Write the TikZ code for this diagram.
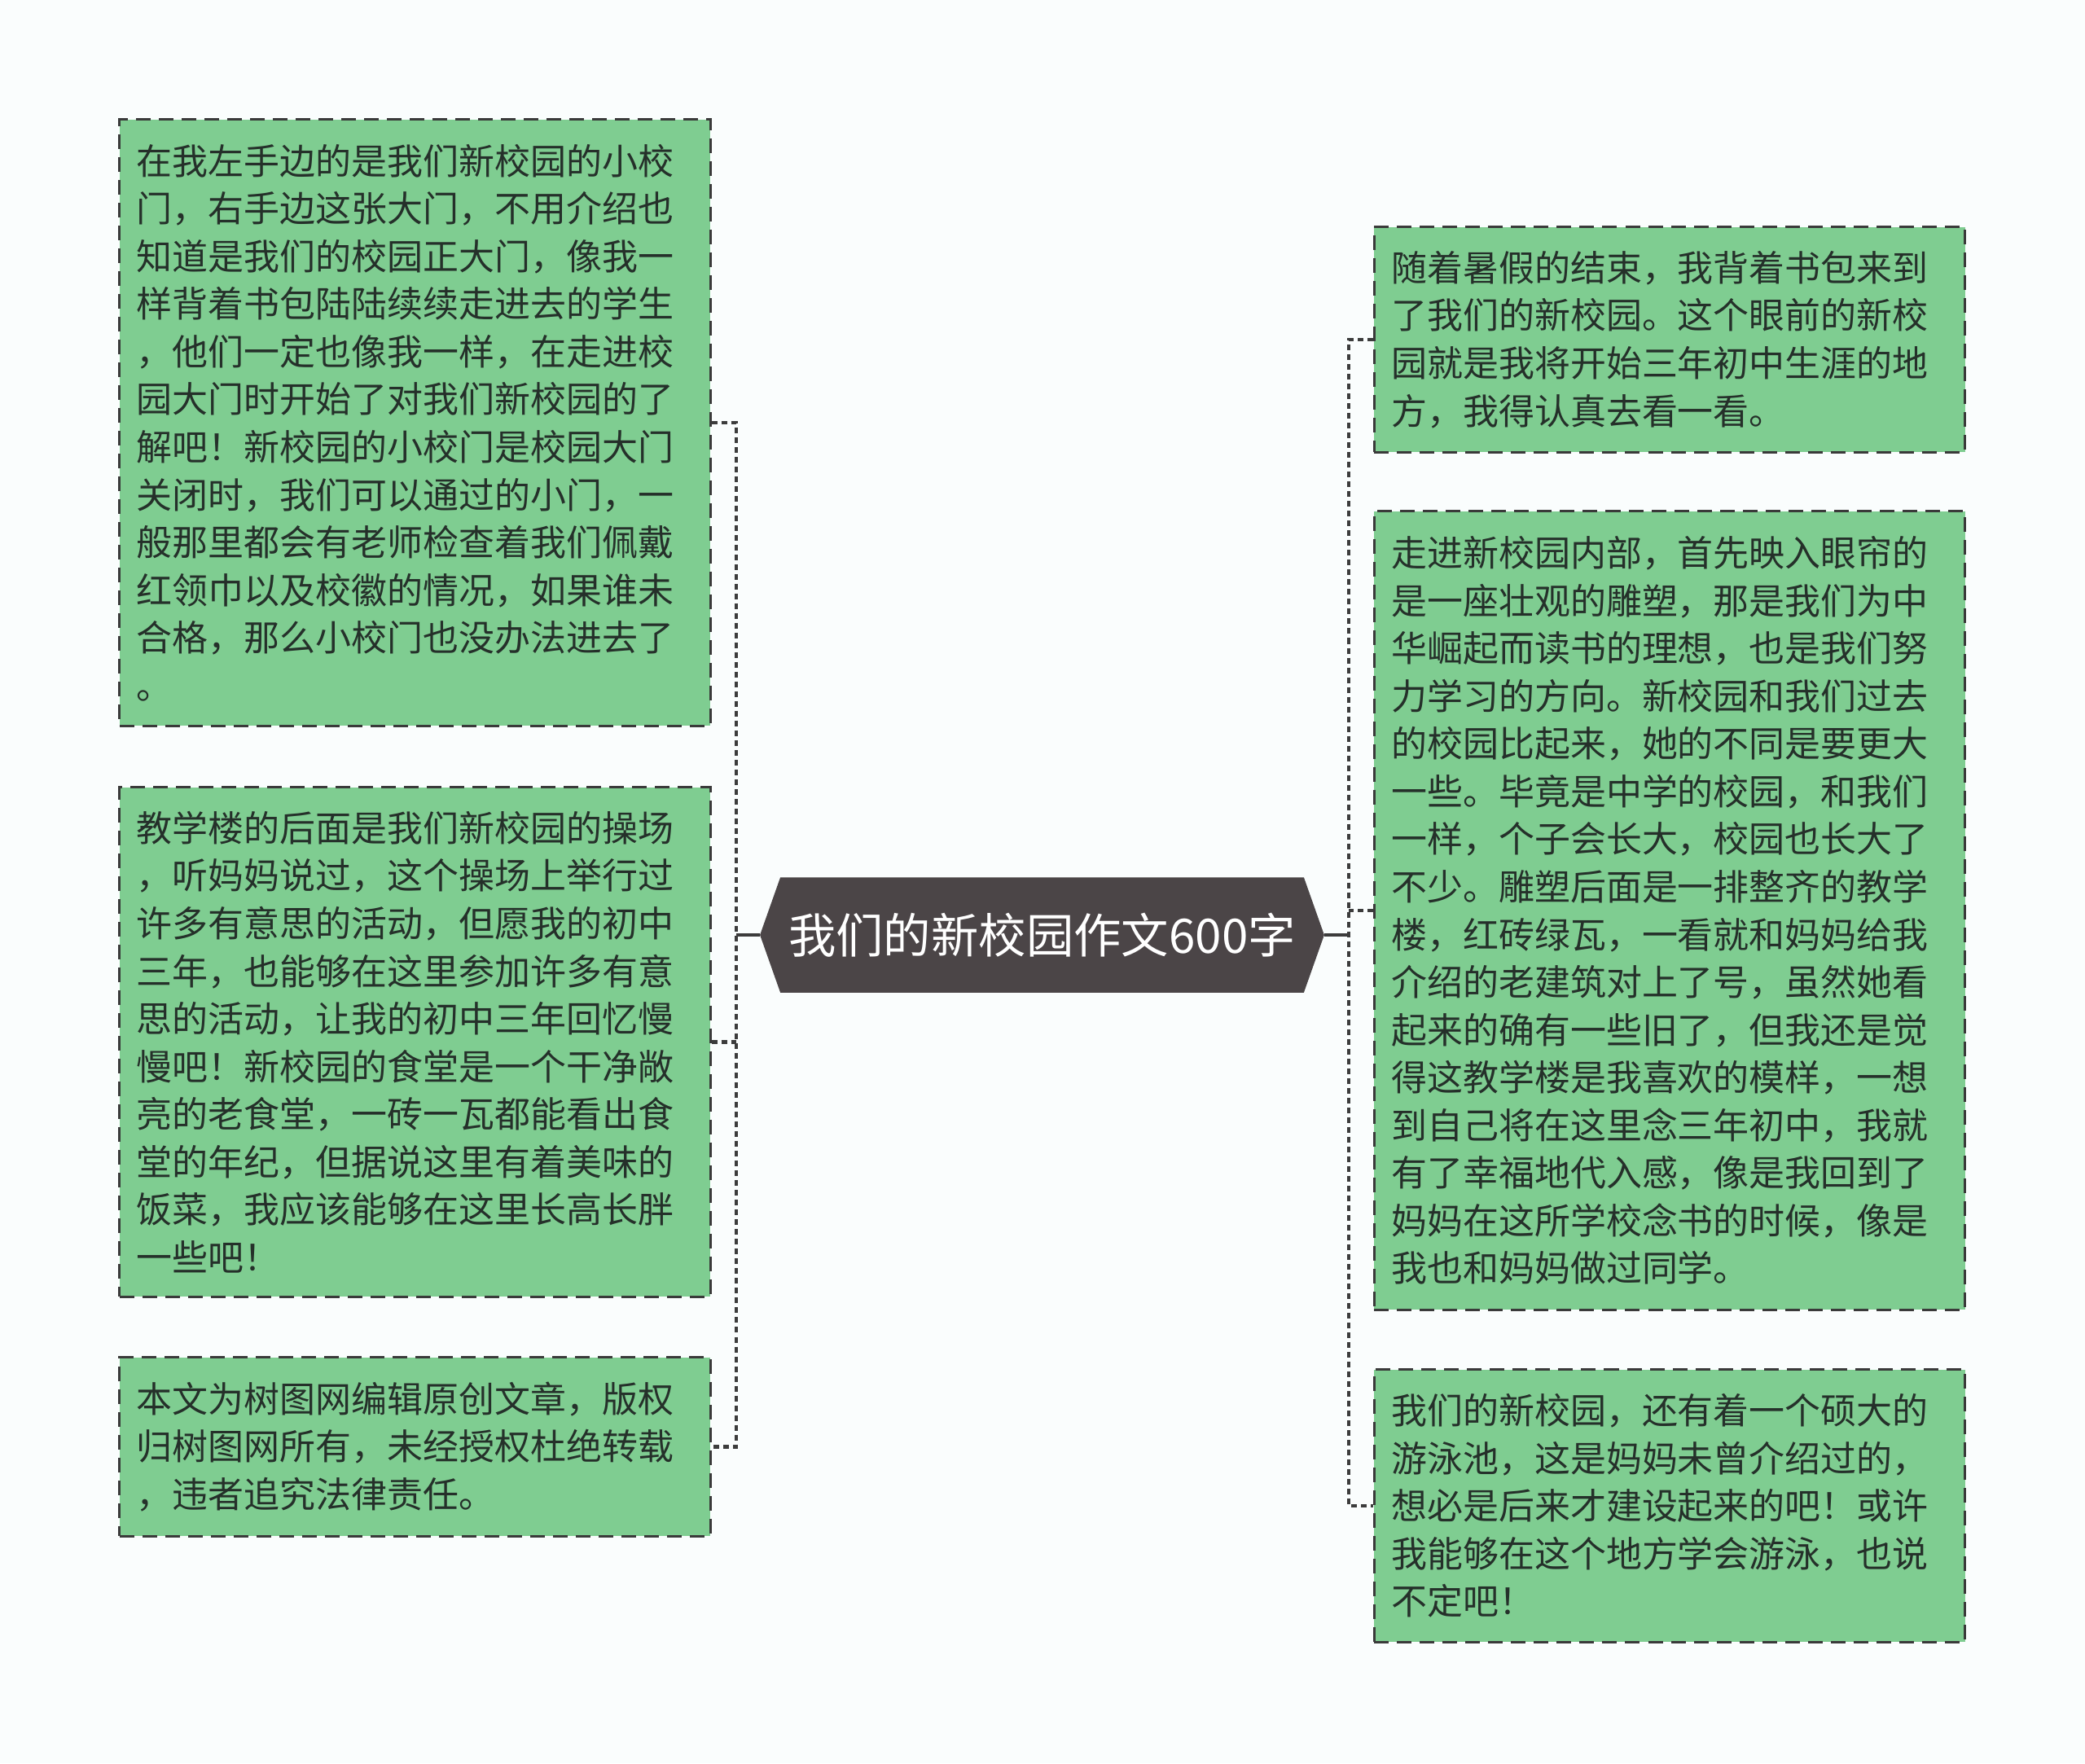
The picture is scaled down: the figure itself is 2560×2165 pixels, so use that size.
\documentclass[tikz,border=0pt]{standalone}
\usepackage{fontspec}
\newfontfamily\cjk{Noto Sans CJK SC}
\usetikzlibrary{backgrounds}
\definecolor{leafgreen}{HTML}{7FCD91}
\definecolor{leafline}{HTML}{3A3A3A}
\definecolor{leaftext}{HTML}{25302A}
\definecolor{titlefill}{HTML}{4B4547}
\definecolor{pagebg}{HTML}{FAFDFD}
\definecolor{linkgray}{HTML}{3C3C3C}
\begin{document}
\begin{tikzpicture}[x=0.01cm, y=-0.01cm,
  leaf/.style={draw=leafline, line width=0.03cm, dash pattern=on 0.18cm off 0.1cm,
    fill=leafgreen, text=leaftext, text width=6.83cm, inner xsep=0.21cm, inner ysep=0cm,
    align=left, font=\cjk\fontsize{12.5pt}{16.65pt}\selectfont},
  title/.style={minimum width=6.91cm, minimum height=1.4cm, inner sep=0pt, text=white,
    font=\cjk\fontsize{16.6pt}{20pt}\selectfont},
  link/.style={draw=linkgray, line width=0.045cm, dash pattern=on 0.07cm off 0.05cm},
  stem/.style={draw=linkgray, line width=0.035cm}]
\useasboundingbox (0,0) rectangle (2560,2165);
%% Nodes
\node[title] (title) at (1279.5,1148) {我们的新校园作文600字};
\node[leaf, minimum height=7.44cm] (l1) at (509.5,519) {在我左手边的是我们新校园的小校\\门，右手边这张大门，不用介绍也\\知道是我们的校园正大门，像我一\\样背着书包陆陆续续走进去的学生\\，他们一定也像我一样，在走进校\\园大门时开始了对我们新校园的了\\解吧！新校园的小校门是校园大门\\关闭时，我们可以通过的小门，一\\般那里都会有老师检查着我们佩戴\\红领巾以及校徽的情况，如果谁未\\合格，那么小校门也没办法进去了\\。};
\node[leaf, minimum height=6.25cm] (l2) at (509.5,1279.5) {教学楼的后面是我们新校园的操场\\，听妈妈说过，这个操场上举行过\\许多有意思的活动，但愿我的初中\\三年，也能够在这里参加许多有意\\思的活动，让我的初中三年回忆慢\\慢吧！新校园的食堂是一个干净敞\\亮的老食堂，一砖一瓦都能看出食\\堂的年纪，但据说这里有着美味的\\饭菜，我应该能够在这里长高长胖\\一些吧！};
\node[leaf, minimum height=2.19cm] (l3) at (509.5,1776.5) {本文为树图网编辑原创文章，版权\\归树图网所有，未经授权杜绝转载\\，违者追究法律责任。};
\node[leaf, minimum height=2.76cm] (r1) at (2050,417) {随着暑假的结束，我背着书包来到\\了我们的新校园。这个眼前的新校\\园就是我将开始三年初中生涯的地\\方，我得认真去看一看。};
\node[leaf, minimum height=9.8cm] (r2) at (2050,1118) {走进新校园内部，首先映入眼帘的\\是一座壮观的雕塑，那是我们为中\\华崛起而读书的理想，也是我们努\\力学习的方向。新校园和我们过去\\的校园比起来，她的不同是要更大\\一些。毕竟是中学的校园，和我们\\一样，个子会长大，校园也长大了\\不少。雕塑后面是一排整齐的教学\\楼，红砖绿瓦，一看就和妈妈给我\\介绍的老建筑对上了号，虽然她看\\起来的确有一些旧了，但我还是觉\\得这教学楼是我喜欢的模样，一想\\到自己将在这里念三年初中，我就\\有了幸福地代入感，像是我回到了\\妈妈在这所学校念书的时候，像是\\我也和妈妈做过同学。};
\node[leaf, minimum height=3.34cm] (r3) at (2050,1849) {我们的新校园，还有着一个硕大的\\游泳池，这是妈妈未曾介绍过的，\\想必是后来才建设起来的吧！或许\\我能够在这个地方学会游泳，也说\\不定吧！};
\coordinate (lbus) at (904,1148);
\coordinate (rbus) at (1656,1148);
%% Title shape and page
\begin{scope}[on background layer]
\fill[pagebg] (0,0) rectangle (2560,2165);
\fill[titlefill] ([xshift=0.25cm]title.north west) -- ([xshift=-0.25cm]title.north east)
  -- (title.east) -- ([xshift=-0.25cm]title.south east)
  -- ([xshift=0.25cm]title.south west) -- (title.west) -- cycle;
\end{scope}
%% Lines
\draw[link] (l1.east) -| (lbus) |- (l3.east);
\draw[link] (l2.east) -- (l2.east -| lbus);
\draw[stem] (title.west) -- (lbus);
\draw[link] (r1.west) -| (rbus) |- (r3.west);
\draw[link] (r2.west) -- (r2.west -| rbus);
\draw[stem] (title.east) -- (rbus);
\end{tikzpicture}
\end{document}
